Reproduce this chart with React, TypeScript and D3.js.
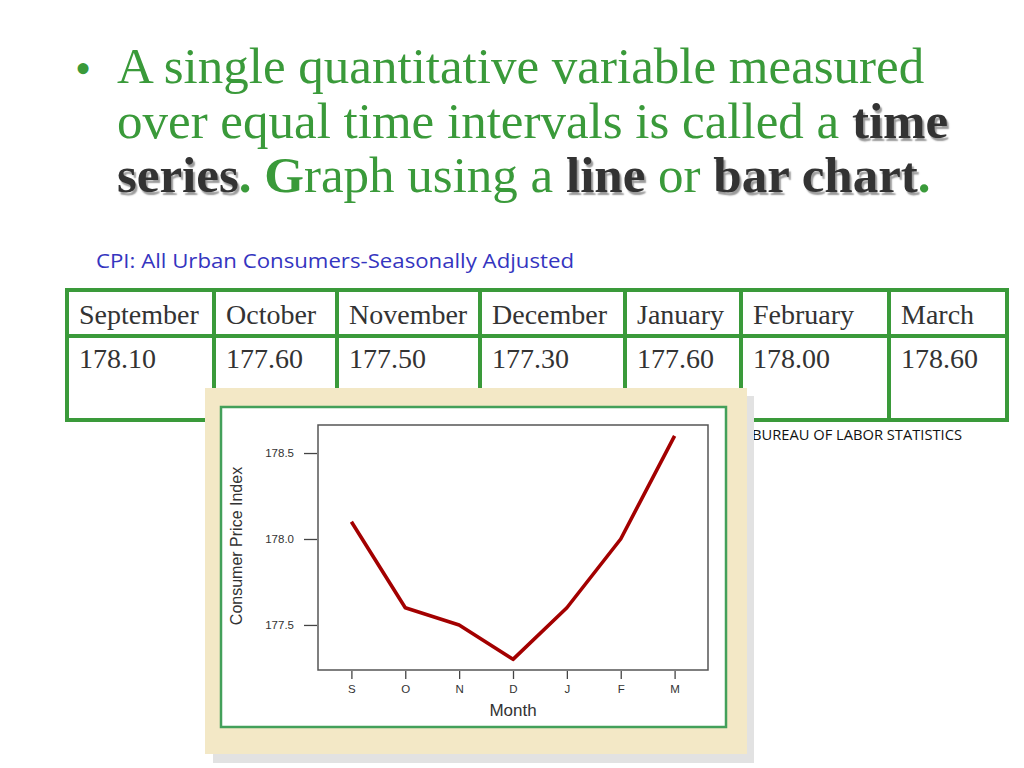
import { useEffect, useRef } from 'react';
import * as d3 from 'd3';

const monthNames = ['September', 'October', 'November', 'December', 'January', 'February', 'March'];
const monthInitials = ['S', 'O', 'N', 'D', 'J', 'F', 'M'];
const cpiValues = [178.1, 177.6, 177.5, 177.3, 177.6, 178.0, 178.6];
const cpiLabels = ['178.10', '177.60', '177.50', '177.30', '177.60', '178.00', '178.60'];
const yTicks = [177.5, 178.0, 178.5];

const GREEN = '#3a9a3a';
const DARK = '#333333';

// table layout
const colEdges = [67, 214, 337, 480, 625, 741, 889, 1007];
const rowEdges = [290, 336, 420];

// chart layout
const plot = { left: 318, right: 708, top: 425, bottom: 670 };

const App = () => {
  const xAxisRef = useRef<SVGGElement>(null);
  const yAxisRef = useRef<SVGGElement>(null);

  const x = d3.scalePoint<string>()
    .domain(monthInitials)
    .range([plot.left, plot.right])
    .padding(0.62);

  const y = d3.scaleLinear()
    .domain([177.238, 178.663])
    .range([plot.bottom, plot.top]);

  const line = d3.line<number>()
    .x((_, i) => x(monthInitials[i]) as number)
    .y((d) => y(d));

  useEffect(() => {
    const gx = d3.select(xAxisRef.current);
    gx.selectAll('*').remove();
    gx.call(d3.axisBottom(x).tickSize(8).tickPadding(6));
    gx.select('.domain').remove();
    gx.selectAll('line').attr('stroke', '#444').attr('stroke-width', 1.3);
    gx.selectAll('text').attr('font-family', 'Liberation Sans, Arial, sans-serif').attr('font-size', 11.5).attr('fill', '#333');

    const gy = d3.select(yAxisRef.current);
    gy.selectAll('*').remove();
    gy.call(d3.axisLeft(y).tickValues(yTicks).tickFormat(d3.format('.1f')).tickSize(13).tickPadding(10));
    gy.select('.domain').remove();
    gy.selectAll('line').attr('stroke', '#444').attr('stroke-width', 1.3);
    gy.selectAll('text').attr('font-family', 'Liberation Sans, Arial, sans-serif').attr('font-size', 11.5).attr('fill', '#333');
  }, []);

  const titleSize = 51;
  const titleFont = 'Liberation Serif, Times New Roman, serif';
  const shade = { textShadow: '2px 2.5px 1.5px #9a9a9a' };

  return (
    <div style={{ position: 'absolute', left: 0, top: 0 }}>
      <svg width={1024} height={768} style={{ display: 'block', background: '#fff' }}>
        {/* title */}
        <text x={75} y={84} fontFamily={titleFont} fontSize={46} fill={GREEN}>•</text>
        <g fontFamily={titleFont} fontSize={titleSize} fill={GREEN}>
          <text x={117} y={83}>A single quantitative variable measured</text>
          <text x={117} y={138}>
            over equal time intervals is called a <tspan fontWeight="bold" fill={DARK} style={shade}>time</tspan>
          </text>
          <text x={117} y={192}>
            <tspan fontWeight="bold" fill={DARK} style={shade}>series</tspan>
            <tspan fontWeight="bold">. G</tspan>
            <tspan>raph using a </tspan>
            <tspan fontWeight="bold" fill={DARK} style={shade}>line</tspan>
            <tspan> or </tspan>
            <tspan fontWeight="bold" fill={DARK} style={shade}>bar chart</tspan>
            <tspan fontWeight="bold">.</tspan>
          </text>
        </g>

        <text x={96} y={268} fontFamily="Open Sans, sans-serif" fontSize={20} fill="#3535c0"
          textLength={478} lengthAdjust="spacingAndGlyphs">
          CPI: All Urban Consumers-Seasonally Adjusted
        </text>

        {/* table */}
        <g>
          {monthNames.map((m, i) => (
            <text key={m} x={colEdges[i] + 12} y={324} fontFamily={titleFont} fontSize={28} fill={DARK}>{m}</text>
          ))}
          {cpiLabels.map((v, i) => (
            <text key={i} x={colEdges[i] + 12} y={368} fontFamily={titleFont} fontSize={28} fill={DARK}>{v}</text>
          ))}
          <rect x={colEdges[0]} y={rowEdges[0]} width={colEdges[7] - colEdges[0]} height={rowEdges[2] - rowEdges[0]}
            fill="none" stroke={GREEN} strokeWidth={4} />
          <line x1={colEdges[0]} x2={colEdges[7]} y1={rowEdges[1]} y2={rowEdges[1]} stroke={GREEN} strokeWidth={4} />
          {colEdges.slice(1, 7).map((cx) => (
            <line key={cx} x1={cx} x2={cx} y1={rowEdges[0]} y2={rowEdges[2]} stroke={GREEN} strokeWidth={4} />
          ))}
        </g>

        <text x={752} y={440} fontFamily="Open Sans, sans-serif" fontSize={15} fill="#111"
          textLength={210} lengthAdjust="spacingAndGlyphs">BUREAU OF LABOR STATISTICS</text>

        {/* chart panel */}
        <rect x={213} y={396} width={541} height={367} fill="#e2e2e2" />
        <rect x={205} y={388} width={542} height={366} fill="#f3e8c6" />
        <rect x={221} y={407} width={505} height={320} fill="#fff" stroke="#43a05a" strokeWidth={2.5} />
        <rect x={plot.left} y={plot.top} width={plot.right - plot.left} height={plot.bottom - plot.top}
          fill="#fff" stroke="#555" strokeWidth={1.5} />
        <g ref={xAxisRef} transform={`translate(0,${plot.bottom + 1})`} />
        <g ref={yAxisRef} transform={`translate(${plot.left - 1},0)`} />
        <path d={line(cpiValues) ?? ''} fill="none" stroke="#a30000" strokeWidth={3.6} strokeLinejoin="round" />
        <text x={(plot.left + plot.right) / 2} y={716} textAnchor="middle"
          fontFamily="Liberation Sans, Arial, sans-serif" fontSize={17} fill="#333">Month</text>
        <text transform={`translate(242,546) rotate(-90)`} textAnchor="middle"
          fontFamily="Liberation Sans, Arial, sans-serif" fontSize={16} fill="#333">Consumer Price Index</text>
      </svg>
    </div>
  );
};

export default App;
